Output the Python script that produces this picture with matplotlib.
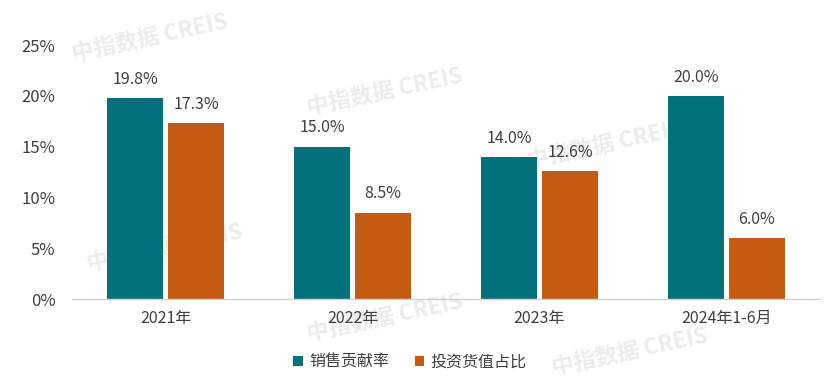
import matplotlib
matplotlib.use("Agg")
import matplotlib.pyplot as plt
import numpy as np

plt.rcParams['font.family'] = ['Noto Sans CJK SC', 'DejaVu Sans']

categories = ["2021年", "2022年", "2023年", "2024年1-6月"]
sales_rate = [19.8, 15.0, 14.0, 20.0]
invest_share = [17.3, 8.5, 12.6, 6.0]
series_names = ["销售贡献率", "投资货值占比"]
yticks = [0, 5, 10, 15, 20, 25]

teal = "#00707A"
orange = "#C55A11"
text_c = "#404040"

fig = plt.figure(figsize=(8.35, 3.79), dpi=100)
ax = fig.add_axes([72/835, 80/379, 748/835, 254/379])
ax.patch.set_alpha(0)

x = np.arange(len(categories))
w = 0.30
off = 0.163
b1 = ax.bar(x - off, sales_rate, w, color=teal, label=series_names[0])
b2 = ax.bar(x + off, invest_share, w, color=orange, label=series_names[1])

for bars, vals in ((b1, sales_rate), (b2, invest_share)):
    for r, v in zip(bars, vals):
        ax.text(r.get_x() + r.get_width()/2, v + 1.0, f"{v:.1f}%", ha="center",
                va="bottom", fontsize=11.5, color=text_c)

ax.set_xlim(-0.5, 3.5)
ax.set_ylim(0, 25)
ax.set_yticks(yticks)
ax.set_yticklabels([f"{t}%" for t in yticks], fontsize=12, color=text_c)
ax.set_xticks(x)
ax.set_xticklabels(categories, fontsize=11.5, color=text_c)
ax.tick_params(axis="both", length=0)
ax.tick_params(axis="y", pad=12)
ax.tick_params(axis="x", pad=8)
for s in ["top", "right", "left"]:
    ax.spines[s].set_visible(False)
ax.spines["bottom"].set_color("#d0d0d0")
ax.spines["bottom"].set_linewidth(1.0)

# watermarks (behind the chart)
for (px, py) in [(150, 38), (385, 92), (605, 145), (165, 248), (385, 318), (630, 352)]:
    fig.text(px/835, 1 - py/379, "中指数据 CREIS", fontsize=16, color="#ececec",
             rotation=12, ha="center", va="center", fontweight="bold", zorder=-5)

fig.legend(handles=[b1, b2], labels=series_names, loc="center",
           bbox_to_anchor=(410/835, 1 - 362/379), ncol=2, frameon=False,
           fontsize=11.5, handlelength=0.6, handleheight=0.6, handletextpad=0.4,
           columnspacing=1.6, labelcolor=text_c)

fig.savefig("out.png", dpi=100)
